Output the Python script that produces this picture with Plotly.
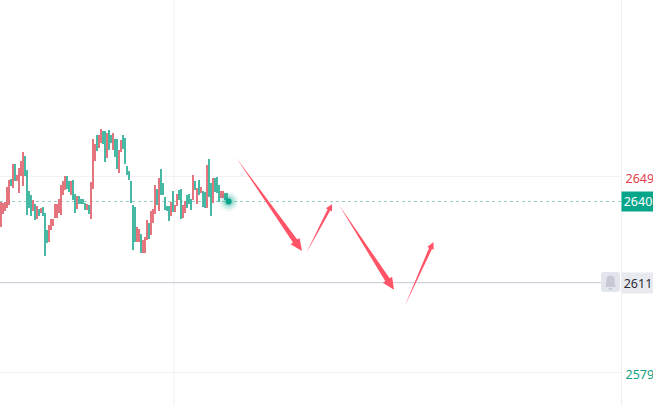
import plotly.graph_objects as go

UP = "#e4757f"
DOWN = "#45b9a3"
ARROW = "#ff5468"
W, H, R = 653, 406, 32

bar_index = list(range(114))
highs = [2640.2, 2639.6, 2640.2, 2645.6, 2648.0, 2648.3, 2653.7, 2653.7, 2649.8, 2652.1,
         2654.8, 2658.0, 2656.5, 2651.5, 2644.0, 2642.6, 2640.8, 2639.4, 2638.7, 2637.6,
         2638.1, 2638.3, 2636.2, 2630.1, 2631.9, 2634.0, 2634.0, 2639.4, 2639.4, 2641.0,
         2646.2, 2647.6, 2649.4, 2649.4, 2647.4, 2647.6, 2648.0, 2643.0, 2642.3, 2642.3,
         2641.2, 2641.2, 2639.6, 2639.4, 2639.0, 2647.3, 2662.6, 2660.8, 2664.0, 2664.0,
         2666.2, 2665.5, 2665.5, 2664.6, 2665.8, 2664.0, 2664.6, 2662.6, 2662.6, 2658.7,
         2662.2, 2664.0, 2663.0, 2652.9, 2651.1, 2647.6, 2639.0, 2638.4, 2631.0, 2630.4,
         2628.6, 2626.5, 2627.6, 2633.6, 2632.4, 2637.0, 2637.6, 2646.1, 2644.6, 2648.6,
         2651.8, 2646.7, 2641.7, 2638.6, 2638.6, 2640.0, 2644.0, 2639.0, 2642.9, 2644.3,
         2644.7, 2639.0, 2640.4, 2642.6, 2642.9, 2641.1, 2649.7, 2647.7, 2644.9, 2647.9,
         2645.3, 2644.0, 2643.8, 2653.3, 2655.4, 2646.7, 2648.6, 2648.6, 2649.0, 2646.1,
         2644.0, 2644.0, 2643.2, 2643.2]
lows = [2631.3, 2635.8, 2636.7, 2637.9, 2639.0, 2645.8, 2645.0, 2647.7, 2647.7, 2643.4,
        2649.4, 2645.8, 2649.2, 2635.5, 2638.0, 2635.1, 2636.7, 2633.7, 2634.0, 2634.9,
        2636.1, 2635.1, 2620.8, 2625.6, 2625.9, 2630.1, 2631.5, 2634.4, 2634.4, 2636.0,
        2635.5, 2642.6, 2644.4, 2644.8, 2643.8, 2642.6, 2640.8, 2636.1, 2637.6, 2639.4,
        2639.4, 2639.4, 2637.3, 2637.3, 2635.8, 2634.0, 2644.8, 2654.8, 2658.3, 2659.4,
        2661.2, 2660.8, 2654.4, 2655.8, 2658.7, 2661.2, 2658.7, 2656.2, 2651.9, 2650.5,
        2657.9, 2659.0, 2653.6, 2649.7, 2647.9, 2639.6, 2622.9, 2625.9, 2625.9, 2625.9,
        2622.0, 2622.0, 2622.0, 2626.5, 2626.8, 2628.3, 2632.4, 2635.8, 2639.0, 2637.0,
        2642.6, 2642.6, 2637.2, 2637.0, 2633.3, 2635.0, 2636.5, 2636.5, 2638.6, 2640.8,
        2634.0, 2634.3, 2636.1, 2637.8, 2639.3, 2637.2, 2640.8, 2644.3, 2639.3, 2642.6,
        2643.2, 2638.4, 2637.8, 2637.8, 2642.0, 2635.0, 2639.6, 2643.7, 2643.2, 2640.2,
        2641.4, 2641.4, 2640.8, 2639.6]
bar_colors = [
    "r","r","r","r","r","g","r","g","r","r",
    "r","r","g","g","g","g","r","g","r","g",
    "r","g","g","g","r","r","r","r","r","r",
    "r","r","r","g","g","r","g","g","r","g",
    "g","g","g","r","g","r","r","r","g","r",
    "r","g","g","r","g","g","r","g","g","r",
    "r","g","g","g","g","g","g","g","r","r",
    "g","r","r","r","g","r","r","r","g","r",
    "g","g","g","g","g","r","g","r","r","g",
    "g","r","r","g","g","g","r","g","r","g",
    "r","g","g","r","g","g","r","g","g","g",
    "r","r","g","g",
]

last_price = 2640
alert_price = 2611
upper_price = 2649
lower_price = 2579
dot_x = 113.8
grid_bar = 86.5
y_tick_values = [lower_price, upper_price]
y_tick_labels = [f'<span style="color:#14a084">{lower_price}</span>',
                 f'<span style="color:#e5404f">{upper_price}</span>']

arrow_tail_x = [117.5, 152.5, 169.0, 201.9]
arrow_tail_y = [2656.0, 2621.7, 2639.0, 2602.9]
arrow_tip_x = [150.5, 165.5, 196.5, 216.2]
arrow_tip_y = [2622.6, 2639.3, 2608.7, 2625.8]
arrow_head_half = [5.5, 3.5, 5.5, 3.5]
arrow_head_len = [12.0, 6.5, 12.0, 7.0]
arrow_shaft_half = [2.6, 1.5, 2.6, 1.6]

X_MIN, X_MAX = -0.5, 310.0
Y_MAX = 2649 + 176.3 / 2.8
Y_MIN = Y_MAX - 406 / 2.8
PX_X = (W - R) / (X_MAX - X_MIN)
PX_Y = H / (Y_MAX - Y_MIN)
PRICE_SHIFT = -0.25  # the marks were read against a grid placed 0.7 px lower


def arrow_path(x0, y0, x1, y1, hh, hl, sh):
    ax, ay = x0 * PX_X, y0 * PX_Y
    bx, by = x1 * PX_X, y1 * PX_Y
    d = ((bx - ax) ** 2 + (by - ay) ** 2) ** 0.5
    ux, uy = (bx - ax) / d, (by - ay) / d
    nx, ny = -uy, ux
    cx, cy = bx - ux * hl, by - uy * hl
    pts = [(ax, ay), (cx + nx * sh, cy + ny * sh), (cx + nx * hh, cy + ny * hh), (bx, by),
           (cx - nx * hh, cy - ny * hh), (cx - nx * sh, cy - ny * sh), (ax, ay)]
    return [p[0] / PX_X for p in pts], [p[1] / PX_Y + PRICE_SHIFT for p in pts]


def paper_x(px):
    return X_MIN + px / PX_X


def paper_y(py):
    return Y_MAX - py / PX_Y


fig = go.Figure()
fig.add_trace(go.Bar(
    x=bar_index, base=[l + PRICE_SHIFT for l in lows], y=[h - l for h, l in zip(highs, lows)],
    marker=dict(color=[UP if c == "r" else DOWN for c in bar_colors], line_width=0),
    width=1.0, hoverinfo="skip", showlegend=False,
))
for s, o in [(20, 0.07), (15, 0.14), (10, 0.25)]:
    fig.add_trace(go.Scatter(x=[dot_x], y=[last_price], mode="markers",
                             marker=dict(size=s, color="#06a48a", opacity=o, line_width=0),
                             hoverinfo="skip", showlegend=False))
fig.add_trace(go.Scatter(x=[dot_x], y=[last_price], mode="markers",
                         marker=dict(size=6, color="#06a48a", line_width=0),
                         hoverinfo="skip", showlegend=False))

for vals in zip(arrow_tail_x, arrow_tail_y, arrow_tip_x, arrow_tip_y,
                arrow_head_half, arrow_head_len, arrow_shaft_half):
    xs, ys = arrow_path(*vals)
    fig.add_trace(go.Scatter(x=xs, y=ys, mode="lines", fill="toself", fillcolor=ARROW,
                             line=dict(width=0, color=ARROW), hoverinfo="skip", showlegend=False))

shapes = [
    dict(type="line", xref="x", yref="paper", x0=grid_bar, x1=grid_bar, y0=0, y1=1,
         line=dict(color="#f2f2f5", width=1), layer="below"),
    dict(type="line", xref="paper", yref="y", x0=0, x1=1, y0=last_price, y1=last_price,
         line=dict(color="#9ccfc4", width=1, dash="3px,3px"), layer="below"),
    dict(type="line", xref="paper", yref="y", x0=0, x1=0.968, y0=alert_price, y1=alert_price,
         line=dict(color="#c9c7d6", width=1), layer="below"),
]
bx0, bx1, by0, by1 = 601, 620, 272, 292
r = 3
shapes.append(dict(type="path", xref="x", yref="y", fillcolor="#e3e5ed", line=dict(width=0),
    path=(f"M {paper_x(bx0+r)} {paper_y(by0)} L {paper_x(bx1-r)} {paper_y(by0)} "
          f"Q {paper_x(bx1)} {paper_y(by0)} {paper_x(bx1)} {paper_y(by0+r)} "
          f"L {paper_x(bx1)} {paper_y(by1-r)} Q {paper_x(bx1)} {paper_y(by1)} {paper_x(bx1-r)} {paper_y(by1)} "
          f"L {paper_x(bx0+r)} {paper_y(by1)} Q {paper_x(bx0)} {paper_y(by1)} {paper_x(bx0)} {paper_y(by1-r)} "
          f"L {paper_x(bx0)} {paper_y(by0+r)} Q {paper_x(bx0)} {paper_y(by0)} {paper_x(bx0+r)} {paper_y(by0)} Z")))
shapes.append(dict(type="path", xref="x", yref="y", fillcolor="#c6c9d3", line=dict(width=0),
    path=(f"M {paper_x(605)} {paper_y(287)} L {paper_x(616)} {paper_y(287)} L {paper_x(615)} {paper_y(285)} "
          f"L {paper_x(614.5)} {paper_y(279)} Q {paper_x(614)} {paper_y(275.5)} {paper_x(610.5)} {paper_y(275.5)} "
          f"Q {paper_x(607)} {paper_y(275.5)} {paper_x(606.5)} {paper_y(279)} "
          f"L {paper_x(606)} {paper_y(285)} Z "
          f"M {paper_x(608.5)} {paper_y(288)} L {paper_x(612.5)} {paper_y(288)} "
          f"L {paper_x(611.5)} {paper_y(290)} L {paper_x(609.5)} {paper_y(290)} Z")))

annotations = [
    dict(x=1, xref="paper", xanchor="left", y=last_price, yref="y", yanchor="middle",
         text=str(last_price), showarrow=False, bgcolor="#07a68b", width=32, height=19,
         font=dict(color="white", size=12.5), align="center", borderpad=0),
    dict(x=1, xref="paper", xanchor="left", y=alert_price, yref="y", yanchor="middle",
         text=str(alert_price), showarrow=False, bgcolor="#e9eaf0", width=32, height=20,
         font=dict(color="#2b2b33", size=12.5), align="center", borderpad=0),
]

fig.update_layout(
    width=W, height=H, autosize=False,
    margin=dict(l=0, r=R, t=0, b=0),
    paper_bgcolor="white", plot_bgcolor="white",
    bargap=0,
    font=dict(family="Noto Sans, Open Sans, sans-serif", size=12.5),
    xaxis=dict(range=[X_MIN, X_MAX], showgrid=False, zeroline=False, showticklabels=False,
               ticks="", fixedrange=True),
    yaxis=dict(range=[Y_MIN, Y_MAX], side="right", showgrid=True, gridcolor="#f2f2f5", gridwidth=1,
               zeroline=False, tickvals=y_tick_values, ticktext=y_tick_labels, ticks="",
               ticklabelshift=2, ticklabelstandoff=1,
               showline=True, linecolor="#eeeef3", linewidth=1, fixedrange=True),
    shapes=shapes, annotations=annotations, showlegend=False,
)
fig.write_html("out.html", config={"displayModeBar": False},
               post_script="document.documentElement.style.margin='0';document.body.style.margin='0';document.body.style.overflow='hidden';")
